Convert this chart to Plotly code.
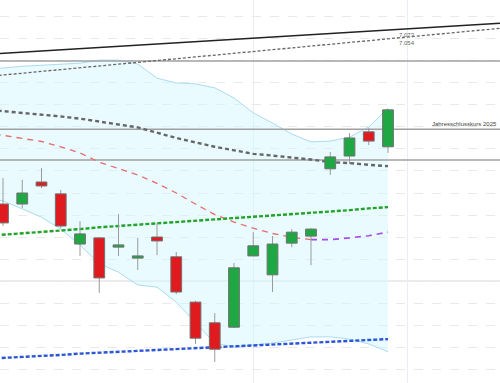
import plotly.graph_objects as go

# ---- data ----
idx = list(range(21))
opens  = [6.675, 6.675, 6.725, 6.698, 6.584, 6.598, 6.577, 6.552, 6.600, 6.555, 6.452,
          6.405, 6.395, 6.557, 6.514, 6.586, 6.602, 6.755, 6.784, 6.839, 6.805]
highs  = [6.734, 6.730, 6.757, 6.707, 6.636, 6.600, 6.652, 6.598, 6.632, 6.566, 6.455,
          6.427, 6.541, 6.611, 6.602, 6.618, 6.620, 6.793, 6.836, 6.848, 6.891]
lows   = [6.625, 6.666, 6.711, 6.620, 6.557, 6.473, 6.557, 6.525, 6.559, 6.470, 6.357,
          6.316, 6.393, 6.556, 6.475, 6.577, 6.536, 6.741, 6.766, 6.809, 6.791]
closes = [6.632, 6.700, 6.716, 6.625, 6.607, 6.507, 6.582, 6.557, 6.591, 6.475, 6.370,
          6.345, 6.530, 6.580, 6.584, 6.611, 6.618, 6.782, 6.825, 6.818, 6.889]

ind_x = list(range(-1, 21))
sma_slow = [6.890, 6.886, 6.882, 6.879, 6.874, 6.869, 6.862, 6.856, 6.849, 6.837, 6.825,
            6.815, 6.805, 6.797, 6.789, 6.785, 6.781, 6.776, 6.770, 6.768, 6.764, 6.761]
sma_mid = [6.836, 6.831, 6.824, 6.817, 6.805, 6.791, 6.770, 6.756, 6.741, 6.722, 6.700,
           6.675, 6.651, 6.634, 6.620, 6.608, 6.599, 6.594, 6.594, 6.598, 6.603, 6.611]
sma_green = [6.602, 6.605, 6.608, 6.612, 6.615, 6.618, 6.622, 6.625, 6.628, 6.631, 6.634,
             6.637, 6.640, 6.643, 6.645, 6.648, 6.651, 6.654, 6.658, 6.661, 6.665, 6.668]
sma_blue = [6.323, 6.325, 6.327, 6.330, 6.332, 6.335, 6.337, 6.339, 6.341, 6.344, 6.346,
            6.348, 6.350, 6.352, 6.353, 6.355, 6.357, 6.359, 6.361, 6.363, 6.365, 6.368]
bb_upper = [6.982, 6.984, 6.988, 6.990, 6.992, 6.995, 7.002, 7.002, 6.993, 6.961, 6.950,
            6.948, 6.939, 6.916, 6.882, 6.859, 6.834, 6.816, 6.818, 6.827, 6.850, 6.893]
bb_lower = [6.691, 6.682, 6.664, 6.645, 6.618, 6.582, 6.539, 6.520, 6.491, 6.486, 6.452,
            6.405, 6.359, 6.350, 6.355, 6.359, 6.366, 6.373, 6.373, 6.368, 6.357, 6.339]
mid_switch = 17  # position in ind_x where the mid line turns rising (index 16)

trend_x = [-1, 21, 26]
trend_black = [7.015, 7.073, 7.086]
trend_dotted = [6.964, 7.054, 7.075]

levels = [7.000, 6.845, 6.775]
level_label = "Jahresschlusskurs 2025"
vgrid = [13, 21]

FONT = "Liberation Sans, Arial, sans-serif"
fig = go.Figure()

# Bollinger band
fig.add_trace(go.Scatter(x=ind_x, y=bb_lower, mode="lines",
                         line=dict(color="#aadcf2", width=1), hoverinfo="skip"))
fig.add_trace(go.Scatter(x=ind_x, y=bb_upper, mode="lines", fill="tonexty",
                         fillcolor="rgba(212,248,255,0.5)",
                         line=dict(color="#aadcf2", width=1), hoverinfo="skip"))

# horizontal level lines
for lv in levels:
    fig.add_trace(go.Scatter(x=[-1, 27], y=[lv, lv], mode="lines",
                             line=dict(color="#a0a0a0", width=1.4), hoverinfo="skip"))

# trend lines
fig.add_trace(go.Scatter(x=trend_x, y=trend_black, mode="lines",
                         line=dict(color="#222222", width=1.5)))
fig.add_trace(go.Scatter(x=trend_x, y=trend_dotted, mode="lines",
                         line=dict(color="#666666", width=1.3, dash="3px,2px")))

# moving averages
fig.add_trace(go.Scatter(x=ind_x, y=sma_slow, mode="lines",
                         line=dict(color="#666666", width=2.4, dash="4px,3px")))
fig.add_trace(go.Scatter(x=ind_x[:mid_switch + 1], y=sma_mid[:mid_switch + 1], mode="lines",
                         line=dict(color="#e86a6a", width=1.3, dash="6px,5px")))
fig.add_trace(go.Scatter(x=ind_x[mid_switch:], y=sma_mid[mid_switch:], mode="lines",
                         line=dict(color="#a64be8", width=1.6, dash="6px,5px")))
fig.add_trace(go.Scatter(x=ind_x, y=sma_green, mode="lines",
                         line=dict(color="#22a329", width=2.4, dash="4px,2px")))
fig.add_trace(go.Scatter(x=ind_x, y=sma_blue, mode="lines",
                         line=dict(color="#2a56d6", width=2.4, dash="4px,2px")))

# wicks
wx, wy = [], []
for i, h, l in zip(idx, highs, lows):
    wx += [i, i, None]
    wy += [h, l, None]
fig.add_trace(go.Scatter(x=wx, y=wy, mode="lines", line=dict(color="#9a9a9a", width=1),
                         hoverinfo="skip"))

# bodies
hw = 0.28
for i, o, c in zip(idx, opens, closes):
    lo, hi = min(o, c), max(o, c)
    col = "#1fa744" if c >= o else "#e01b20"
    fig.add_trace(go.Scatter(x=[i - hw, i + hw, i + hw, i - hw, i - hw],
                             y=[lo, lo, hi, hi, lo], mode="lines", fill="toself",
                             fillcolor=col, line=dict(color="#707070", width=1),
                             hoverinfo="skip"))

# labels
fig.add_annotation(x=trend_x[1], y=trend_black[1], text=f"{trend_black[1]:.3f}",
                   showarrow=False, yanchor="top", yshift=-1,
                   font=dict(family=FONT, size=6, color="#666666"))
fig.add_annotation(x=trend_x[1], y=trend_dotted[1], text=f"{trend_dotted[1]:.3f}",
                   showarrow=False, yanchor="top", yshift=-1,
                   font=dict(family=FONT, size=6, color="#666666"))
fig.add_annotation(xref="paper", x=0.998, y=levels[1], text=level_label, showarrow=False,
                   xanchor="right", yanchor="bottom", yshift=0,
                   font=dict(family=FONT, size=6, color="#444444"))

fig.update_layout(
    width=500, height=383, margin=dict(l=0, r=0, t=0, b=0),
    paper_bgcolor="white", plot_bgcolor="white", showlegend=False,
    xaxis=dict(range=[-0.156, 25.818], showticklabels=False, zeroline=False,
               tickvals=vgrid, showgrid=True, gridcolor="#e8eef2", gridwidth=1.3,
               fixedrange=True),
    yaxis=dict(range=[6.2682, 7.1386], showticklabels=False, zeroline=False,
               tick0=6.5, dtick=0.05, showgrid=True, gridcolor="#e9e9e9",
               griddash="dash", gridwidth=1, fixedrange=True),
    shapes=[dict(type="line", xref="paper", x0=0, x1=1, yref="y", y0=6.5, y1=6.5,
                 line=dict(color="#ececec", width=2), layer="below")],
)

fig.write_html("out.html")
